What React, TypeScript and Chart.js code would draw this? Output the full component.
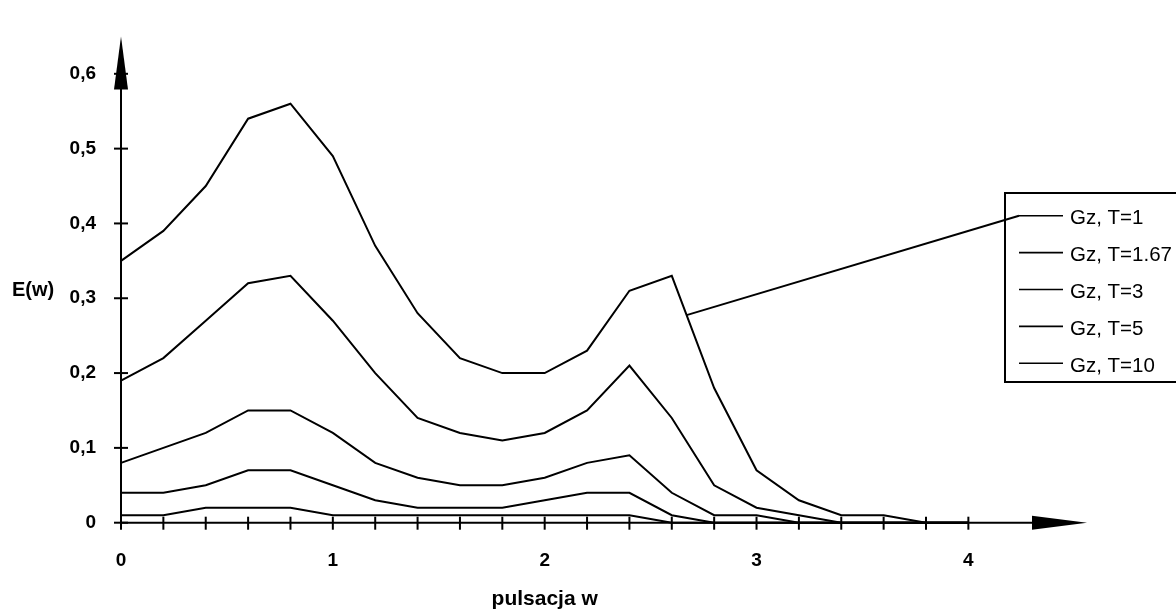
import React, { useEffect, useRef } from 'react';
import { Chart, registerables } from 'chart.js';

Chart.register(...registerables);

// ---- data ----
const omega = [0, 0.2, 0.4, 0.6, 0.8, 1.0, 1.2, 1.4, 1.6, 1.8, 2.0, 2.2, 2.4, 2.6, 2.8, 3.0, 3.2, 3.4, 3.6, 3.8, 4.0];
const seriesLabels = ['Gz, T=1', 'Gz, T=1.67', 'Gz, T=3', 'Gz, T=5', 'Gz, T=10'];
const eT1 = [0.35, 0.39, 0.45, 0.54, 0.56, 0.49, 0.37, 0.28, 0.22, 0.20, 0.20, 0.23, 0.31, 0.33, 0.18, 0.07, 0.03, 0.01, 0.01, 0, 0];
const eT167 = [0.19, 0.22, 0.27, 0.32, 0.33, 0.27, 0.20, 0.14, 0.12, 0.11, 0.12, 0.15, 0.21, 0.14, 0.05, 0.02, 0.01, 0, 0, 0, 0];
const eT3 = [0.08, 0.10, 0.12, 0.15, 0.15, 0.12, 0.08, 0.06, 0.05, 0.05, 0.06, 0.08, 0.09, 0.04, 0.01, 0.01, 0, 0, 0, 0, 0];
const eT5 = [0.04, 0.04, 0.05, 0.07, 0.07, 0.05, 0.03, 0.02, 0.02, 0.02, 0.03, 0.04, 0.04, 0.01, 0, 0, 0, 0, 0, 0, 0];
const eT10 = [0.01, 0.01, 0.02, 0.02, 0.02, 0.01, 0.01, 0.01, 0.01, 0.01, 0.01, 0.01, 0.01, 0, 0, 0, 0, 0, 0, 0, 0];
const seriesValues = [eT1, eT167, eT3, eT5, eT10];

const xTitle = 'pulsacja w';
const yTitle = 'E(w)';
const xAxisMin = 0;
const xAxisMax = 4.56;
const xLastTick = 4;
const yAxisMin = 0;
const yAxisMax = 0.65;
const yLastTick = 0.6;
const leaderAtOmega = 2.67; // where the legend pointer touches the T=1 curve

const FONT = "'Liberation Sans', Arial, Helvetica, sans-serif";

function interp(xs: number[], ys: number[], x: number) {
  for (let i = 0; i < xs.length - 1; i++) {
    if (x >= xs[i] && x <= xs[i + 1]) {
      const t = (x - xs[i]) / (xs[i + 1] - xs[i]);
      return ys[i] + t * (ys[i + 1] - ys[i]);
    }
  }
  return ys[ys.length - 1];
}

const decorPlugin = {
  id: 'decor',
  afterDraw(chart: any) {
    const ctx = chart.ctx as CanvasRenderingContext2D;
    const xs = chart.scales.x;
    const ys = chart.scales.y;
    const x0 = xs.getPixelForValue(0);
    const y0 = ys.getPixelForValue(0);
    const xEnd = xs.getPixelForValue(xAxisMax);
    const yTop = ys.getPixelForValue(yAxisMax);
    ctx.save();
    ctx.strokeStyle = '#000';
    ctx.fillStyle = '#000';
    ctx.lineWidth = 2;
    ctx.lineCap = 'butt';
    // axis lines
    ctx.beginPath();
    ctx.moveTo(x0, y0 + 6);
    ctx.lineTo(x0, yTop + 45);
    ctx.stroke();
    ctx.beginPath();
    ctx.moveTo(x0 - 1, y0);
    ctx.lineTo(xEnd - 45, y0);
    ctx.stroke();
    // arrow heads
    ctx.beginPath();
    ctx.moveTo(x0, yTop);
    ctx.lineTo(x0 - 7, yTop + 53);
    ctx.lineTo(x0 + 7, yTop + 53);
    ctx.closePath();
    ctx.fill();
    ctx.beginPath();
    ctx.moveTo(xEnd, y0);
    ctx.lineTo(xEnd - 55, y0 - 7);
    ctx.lineTo(xEnd - 55, y0 + 7);
    ctx.closePath();
    ctx.fill();
    // tick marks crossing the axes
    ctx.lineWidth = 2;
    xs.ticks.forEach((t: any) => {
      if (t.value > xLastTick + 1e-6) return;
      const px = xs.getPixelForValue(t.value);
      ctx.beginPath();
      ctx.moveTo(px, y0 - 6);
      ctx.lineTo(px, y0 + 7);
      ctx.stroke();
    });
    ys.ticks.forEach((t: any) => {
      if (t.value > yLastTick + 1e-6) return;
      const py = ys.getPixelForValue(t.value);
      ctx.beginPath();
      ctx.moveTo(x0 - 7, py);
      ctx.lineTo(x0 + 7, py);
      ctx.stroke();
    });
    // axis titles
    ctx.font = `bold 21px ${FONT}`;
    ctx.textAlign = 'center';
    ctx.textBaseline = 'alphabetic';
    ctx.fillText(xTitle, xs.getPixelForValue(2), 605);
    ctx.font = `bold 20px ${FONT}`;
    ctx.textAlign = 'left';
    ctx.fillText(yTitle, 12, 295.5);

    // legend box (runs off the right edge, as in the reference)
    const boxL = 1005, boxT = 193, boxB = 382;
    ctx.lineWidth = 2;
    ctx.beginPath();
    ctx.moveTo(1200, boxT);
    ctx.lineTo(boxL, boxT);
    ctx.lineTo(boxL, boxB);
    ctx.lineTo(1200, boxB);
    ctx.stroke();
    const rowY0 = 215.7, rowGap = 36.9;
    ctx.font = `20.5px ${FONT}`;
    ctx.textAlign = 'left';
    chart.data.datasets.forEach((ds: any, i: number) => {
      const ry = rowY0 + i * rowGap;
      ctx.lineWidth = 1.6;
      ctx.beginPath();
      ctx.moveTo(1019, ry);
      ctx.lineTo(1063, ry);
      ctx.stroke();
      ctx.fillText(ds.label, 1070, ry + 8.3);
    });
    // leader line from legend to the T=1 curve
    const lv = interp(omega, eT1, leaderAtOmega);
    ctx.lineWidth = 2;
    ctx.beginPath();
    ctx.moveTo(xs.getPixelForValue(leaderAtOmega), ys.getPixelForValue(lv));
    ctx.lineTo(1019, rowY0);
    ctx.stroke();
    ctx.restore();
  },
};

export default function App() {
  const ref = useRef<HTMLCanvasElement | null>(null);
  useEffect(() => {
    if (!ref.current) return;
    const chart = new Chart(ref.current, {
      type: 'line',
      data: {
        datasets: seriesValues.map((vals, i) => ({
          label: seriesLabels[i],
          data: omega.map((w, j) => ({ x: w, y: vals[j] })),
          borderColor: '#000',
          backgroundColor: '#000',
          borderWidth: 2,
          pointRadius: 0,
          tension: 0,
          fill: false,
          clip: 4,
        })),
      },
      options: {
        responsive: false,
        animation: false,
        layout: { padding: { top: 15, right: 89, left: 0, bottom: 0 } },
        plugins: { legend: { display: false }, tooltip: { enabled: false }, title: { display: false } },
        scales: {
          x: {
            type: 'linear',
            min: xAxisMin,
            max: xAxisMax,
            grid: { display: false, drawTicks: false },
            border: { display: false },
            ticks: {
              stepSize: 0.2,
              autoSkip: false,
              maxRotation: 0,
              padding: 27,
              color: '#000',
              font: { family: FONT, size: 19, weight: 'bold' },
              callback: (v: any) => {
                const n = Number(v);
                const r = Math.round(n);
                if (Math.abs(n - r) < 1e-6 && r <= xLastTick) return String(r);
                return '';
              },
            },
            afterFit: (s: any) => {
              s.height = 87.3;
            },
          },
          y: {
            type: 'linear',
            min: yAxisMin,
            max: yAxisMax,
            grid: { display: false, drawTicks: false },
            border: { display: false },
            ticks: {
              stepSize: 0.1,
              autoSkip: false,
              padding: 25,
              color: '#000',
              font: { family: FONT, size: 19, weight: 'bold' },
              callback: (v: any) => {
                const n = Number(v) * 10;
                const k = Math.round(n);
                if (Math.abs(n - k) < 1e-6 && k <= Math.round(yLastTick * 10)) {
                  return k === 0 ? '0' : (k / 10).toFixed(1).replace('.', ',');
                }
                return '';
              },
            },
            afterFit: (s: any) => {
              s.width = 121;
            },
          },
        },
      },
      plugins: [decorPlugin],
    } as any);
    return () => chart.destroy();
  }, []);
  return (
    <div style={{ position: 'fixed', left: 0, top: 0, width: 1176, height: 610, background: '#fff' }}>
      <canvas ref={ref} width={1176} height={610} style={{ display: 'block' }} />
    </div>
  );
}
